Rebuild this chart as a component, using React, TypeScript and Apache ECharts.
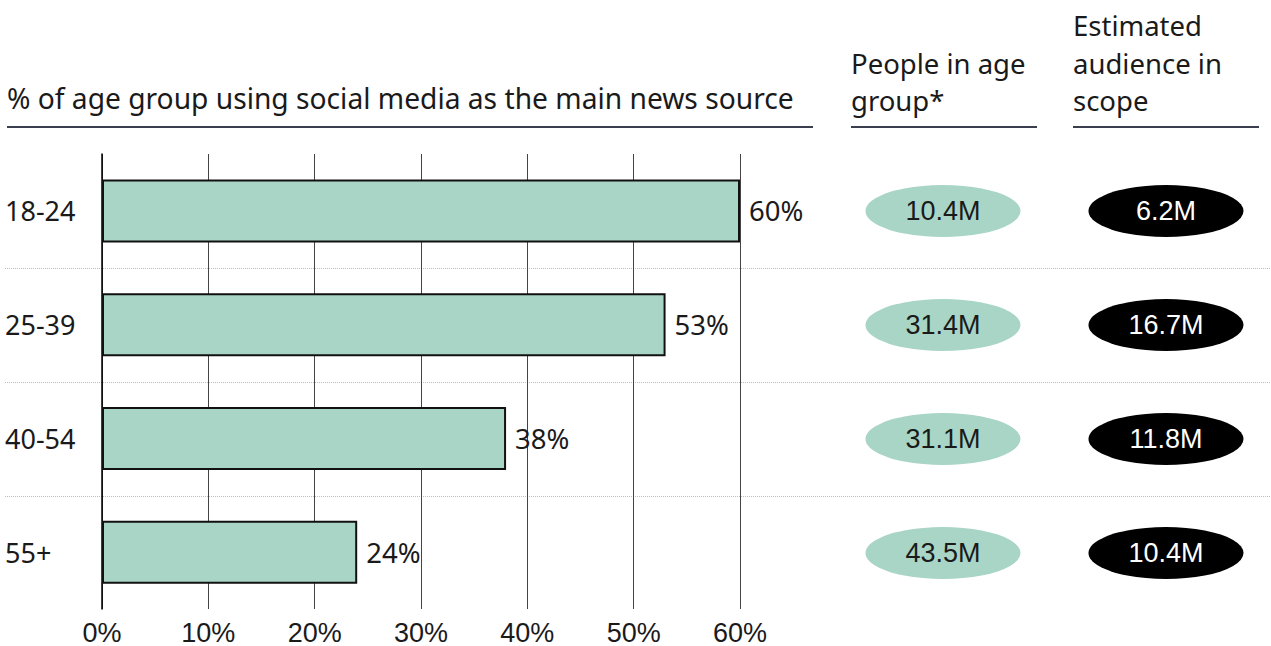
import React, { useEffect, useRef } from "react";
import * as echarts from "echarts";

const ageGroups = ["18-24", "25-39", "40-54", "55+"];
const socialMediaShare = [60, 53, 38, 24];
const peopleInGroupM = [10.4, 31.4, 31.1, 43.5];
const audienceInScopeM = [6.2, 16.7, 11.8, 10.4];
const xTicks = [0, 10, 20, 30, 40, 50, 60];

const titleMain = "% of age group using social media as the main news source";
const titlePeople = ["People in age", "group*"];
const titleAudience = ["Estimated", "audience in", "scope"];

const GREEN = "#a8d5c6";
const HEAD_FONT = '"Noto Sans", "Open Sans", sans-serif';
const NUM_FONT = '"Liberation Sans", Arial, sans-serif';

export default function App() {
  const ref = useRef<HTMLDivElement>(null);
  useEffect(() => {
    if (!ref.current) return;
    const chart = echarts.init(ref.current, null, { renderer: "svg" });
    const top = 154;
    const height = 456;
    const headText = (text: string, x: number, y: number, size = 27.5) => ({
      type: "text",
      x,
      y,
      style: { text, fill: "#1a1a1a", font: `${size}px ${HEAD_FONT}`, textVerticalAlign: "middle", textAlign: "left" },
    });
    const underline = (x1: number, x2: number) => ({
      type: "line",
      shape: { x1, y1: 127, x2, y2: 127 },
      style: { stroke: "#3b3e4f", lineWidth: 2 },
    });
    chart.setOption({
      animation: false,
      grid: [
        { left: 102, width: 638, top, height },
        { left: 943, width: 223, top, height },
        { left: 5, right: 0, top, height },
      ],
      xAxis: [
        {
          gridIndex: 0,
          type: "value",
          min: xTicks[0],
          max: xTicks[xTicks.length - 1],
          interval: 10,
          axisLine: { show: false },
          axisTick: { show: false },
          splitLine: { show: true, lineStyle: { color: "#444", width: 1 } },
          axisLabel: { formatter: "{value}%", fontFamily: NUM_FONT, fontSize: 27, color: "#1a1a1a", margin: 10 },
        },
        { gridIndex: 1, type: "category", data: ["people", "audience"], boundaryGap: false, show: false },
        { gridIndex: 2, type: "value", show: false },
      ],
      yAxis: [
        {
          gridIndex: 0,
          type: "category",
          data: ageGroups,
          inverse: true,
          axisLine: { show: true, lineStyle: { color: "#000", width: 1.5 } },
          axisTick: { show: false },
          axisLabel: { align: "left", margin: 97, fontFamily: HEAD_FONT, fontSize: 27, color: "#1a1a1a" },
        },
        { gridIndex: 1, type: "category", data: ageGroups, inverse: true, show: false },
        {
          gridIndex: 2,
          type: "category",
          data: ageGroups,
          inverse: true,
          axisLine: { show: false },
          axisTick: { show: false },
          axisLabel: { show: false },
          splitLine: {
            show: true,
            interval: 0,
            showMinLine: false,
            showMaxLine: false,
            lineStyle: { color: "#bdbdbd", width: 1, type: "dotted" },
          },
        },
      ],
      series: [
        {
          type: "bar",
          xAxisIndex: 0,
          yAxisIndex: 0,
          data: socialMediaShare,
          barWidth: 63,
          itemStyle: { color: GREEN, borderColor: "#111", borderWidth: 2 },
          label: {
            show: true,
            position: "right",
            distance: 9,
            formatter: "{c}%",
            fontFamily: HEAD_FONT,
            fontSize: 27.5,
            color: "#1a1a1a",
          },
          z: 3,
        },
        {
          type: "scatter",
          xAxisIndex: 1,
          yAxisIndex: 1,
          symbol: "circle",
          symbolSize: [155, 52],
          data: peopleInGroupM.map((v, i) => [0, i, v]),
          itemStyle: { color: GREEN, opacity: 1 },
          label: {
            show: true,
            position: "inside",
            formatter: (p: any) => `${p.value[2]}M`,
            fontFamily: NUM_FONT,
            fontSize: 27,
            color: "#1a1a1a",
          },
        },
        {
          type: "scatter",
          xAxisIndex: 1,
          yAxisIndex: 1,
          symbol: "circle",
          symbolSize: [155, 52],
          data: audienceInScopeM.map((v, i) => [1, i, v]),
          itemStyle: { color: "#000", opacity: 1 },
          label: {
            show: true,
            position: "inside",
            formatter: (p: any) => `${p.value[2]}M`,
            fontFamily: NUM_FONT,
            fontSize: 27,
            color: "#fff",
          },
        },
      ],
      graphic: [
        headText(titleMain, 7, 98, 28.2),
        headText(titlePeople[0], 851, 63),
        headText(titlePeople[1], 851, 100),
        headText(titleAudience[0], 1073, 25),
        headText(titleAudience[1], 1073, 63),
        headText(titleAudience[2], 1073, 100),
        underline(7, 813),
        underline(851, 1037),
        underline(1073, 1259),
      ],
    });
    return () => chart.dispose();
  }, []);
  return <div ref={ref} style={{ position: "absolute", left: 0, top: 0, width: 1271, height: 646 }} />;
}
